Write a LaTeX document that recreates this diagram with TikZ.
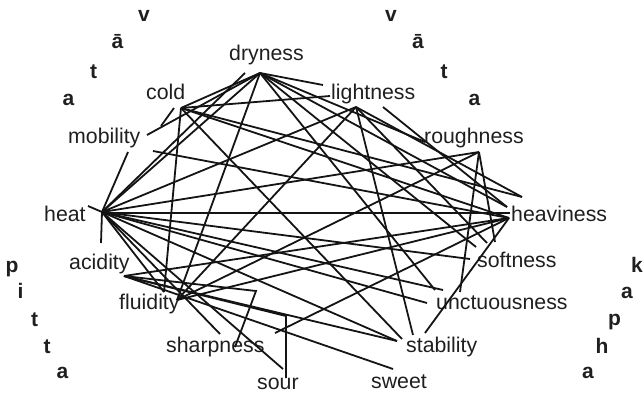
\documentclass[tikz,border=0pt]{standalone}
\usepackage{fontspec}
\setmainfont{Liberation Sans}
\begin{document}
\begin{tikzpicture}[x=1pt,y=-1pt,
  lbl/.style={font=\fontsize{21.3}{25}\selectfont, inner sep=0pt, anchor=base west, text=black!88},
  dosha/.style={font=\bfseries\fontsize{21}{25}\selectfont, inner sep=0pt, anchor=base, text=black!88},
  ln/.style={line width=1.8pt, black!92}]
\useasboundingbox (0,0) rectangle (643,394);
% labels
\node[lbl] (dry) at (229,60) {dryness};
\node[lbl] (cold) at (146,99) {cold};
\node[lbl] (mob) at (68,143) {mobility};
\node[lbl] (light) at (331,99) {lightness};
\node[lbl] (rough) at (424,143) {roughness};
\node[lbl] (heat) at (44,221) {heat};
\node[lbl] (heavy) at (511,221) {heaviness};
\node[lbl] (acid) at (69,269) {acidity};
\node[lbl] (soft) at (477,267) {softness};
\node[lbl] (fluid) at (119,309) {fluidity};
\node[lbl] (unct) at (436,309) {unctuousness};
\node[lbl] (sharp) at (166,352) {sharpness};
\node[lbl] (stab) at (406,352) {stability};
\node[lbl] (sour) at (257,389) {sour};
\node[lbl] (sweet) at (371,388) {sweet};
% dosha letters
\node[dosha] (v1) at (144,21) {v};
\node[dosha] (v2) at (117.5,48) {ā};
\node[dosha] (v3) at (93.5,78) {t};
\node[dosha] (v4) at (68.5,105) {a};
\node[dosha] (w1) at (391,21) {v};
\node[dosha] (w2) at (418,48) {ā};
\node[dosha] (w3) at (444,78) {t};
\node[dosha] (w4) at (474.5,105) {a};
\node[dosha] (p1) at (12,272) {p};
\node[dosha] (p2) at (20.5,298) {i};
\node[dosha] (p3) at (34.5,326) {t};
\node[dosha] (p4) at (47,353) {t};
\node[dosha] (p5) at (62.5,378) {a};
\node[dosha] (k1) at (637,272) {k};
\node[dosha] (k2) at (627,298) {a};
\node[dosha] (k3) at (614.5,325) {p};
\node[dosha] (k4) at (602,353) {h};
\node[dosha] (k5) at (588,378) {a};
% hubs
\coordinate (hH) at (102,212);
\coordinate (hD) at (260,73);
\coordinate (hL) at (356,107);
\coordinate (hC) at (181,108);
\coordinate (hR) at (479,152);
\coordinate (hV) at (509,218);
\coordinate (hA) at (124,276);
\coordinate (fA) at (164,292);
\coordinate (fB) at (177,300);
% free ends
\coordinate (hW) at (88,206);
\coordinate (hS) at (101,243);
\coordinate (hH2) at (102,213);
\coordinate (vH) at (510,213);
\coordinate (mA) at (128,152);
\coordinate (mB) at (147,135);
\coordinate (mC) at (153,151);
\coordinate (cS1) at (174,108);
\coordinate (cS2) at (161,126);
\coordinate (dA) at (245,73);
\coordinate (lA) at (323,85);
\coordinate (lB) at (330,96);
\coordinate (lC) at (383,107);
\coordinate (rA) at (425,142);
\coordinate (vA) at (522,197);
\coordinate (vB) at (507,207);
\coordinate (sA) at (470,259);
\coordinate (sB) at (476,247);
\coordinate (sC) at (487,243);
\coordinate (sD) at (495,242);
\coordinate (uA) at (427,303);
\coordinate (uB) at (435,290);
\coordinate (uC) at (443,290);
\coordinate (uD) at (460,292);
\coordinate (tA) at (397,341);
\coordinate (tB) at (402,339);
\coordinate (tC) at (413,335);
\coordinate (tD) at (425,333);
\coordinate (wA) at (393,369);
\coordinate (oA) at (283,369);
\coordinate (oK) at (286,316);
\coordinate (oB) at (286,378);
\coordinate (pA) at (220,334);
\coordinate (pK) at (256,291);
\coordinate (pB) at (235,347);
\coordinate (xA) at (275,333);
% heat
\draw[ln] (hW) -- (hH);
\draw[ln] (hH) -- (hS);
\draw[ln] (hH) -- (mA);
\draw[ln] (hH) -- (dA);
\draw[ln] (hH) -- (hD);
\draw[ln] (hH) -- (hL);
\draw[ln] (hH) -- (hR);
\draw[ln] (hH2) -- (vH);
\draw[ln] (hH) -- (sA);
\draw[ln] (hH) -- (uA);
\draw[ln] (hH) -- (uC);
\draw[ln] (hH) -- (tA);
\draw[ln] (hH) -- (oA);
\draw[ln] (hH) -- (pA);
\draw[ln] (hH) -- (fA);
% cold
\draw[ln] (hC) -- (hD);
\draw[ln] (hC) -- (lB);
\draw[ln] (hC) -- (fA);
\draw[ln] (hC) -- (tB);
\draw[ln] (hC) -- (vA);
\draw[ln] (hC) -- (hV);
\draw[ln] (cS1) -- (cS2);
% mobility
\draw[ln] (mB) -- (hD);
\draw[ln] (mC) -- (hV);
% dryness
\draw[ln] (hD) -- (lA);
\draw[ln] (hD) -- (fB);
\draw[ln] (hD) -- (rA);
\draw[ln] (hD) -- (vB);
\draw[ln] (hD) -- (sB);
\draw[ln] (hD) -- (uB);
% lightness
\draw[ln] (lC) -- (vB);
\draw[ln] (hL) -- (vA);
\draw[ln] (hL) -- (sC);
\draw[ln] (hL) -- (tC);
\draw[ln] (hL) -- (fB);
% roughness
\draw[ln] (hR) -- (uD);
\draw[ln] (hR) -- (fB);
\draw[ln] (hR) -- (sD);
% heaviness
\draw[ln] (hV) -- (xA);
\draw[ln] (hV) -- (tD);
\draw[ln] (hV) -- (fB);
\draw[ln] (hV) -- (hA);
% acidity
\draw[ln] (hA) -- (pK) -- (pB);
\draw[ln] (hA) -- (oK) -- (oB);
\draw[ln] (hA) -- (wA);
\draw[ln] (hA) -- (tA);
\end{tikzpicture}
\end{document}
